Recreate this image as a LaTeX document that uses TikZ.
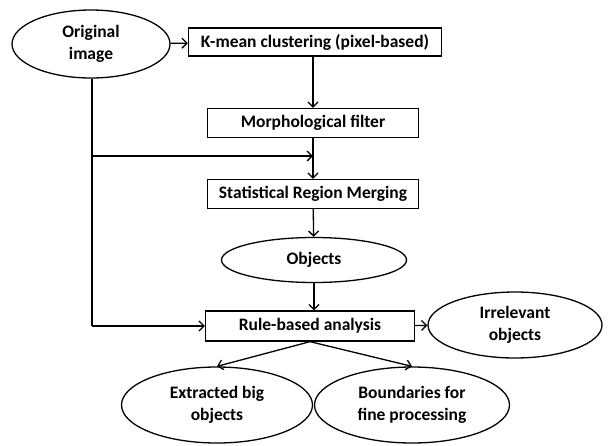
\documentclass[tikz,border=0pt]{standalone}
\usepackage{fontspec}
\setmainfont{Carlito}
\usetikzlibrary{arrows.meta,shapes.geometric}

\tikzset{
  box/.style={draw,line width=1.3pt,minimum width=211pt,minimum height=29pt,inner sep=0pt,font=\bfseries\fontsize{17.5}{22}\selectfont},
  blob/.style={draw,ellipse,line width=1.3pt,inner sep=0pt,align=center,font=\bfseries\fontsize{17.5}{22}\selectfont},
  link/.style={-{Straight Barb[length=5pt,width=10pt]},line width=1.3pt}
}

\begin{document}
\begin{tikzpicture}[x=1pt,y=-1pt]
    \useasboundingbox (0,0) rectangle (616,445);
    % inputs and first steps
    \node[blob,minimum width=158pt,minimum height=68pt] (orig) at (91,44) {Original\\image};
    \node[box,minimum width=253pt,minimum height=28pt] (kmean) at (315,42) {K-mean clustering (pixel-based)};
    \node[box] (morph) at (313,123) {Morphological filter};
    \node[box] (srm) at (313,194) {Statistical Region Merging};
    \node[blob,minimum width=185pt,minimum height=45pt] (objs) at (314,260) {Objects};
    \node[box,minimum width=209pt,minimum height=30pt] (rule) at (310,326) {Rule-based analysis};
    % outputs
    \node[blob,minimum width=174pt,minimum height=66pt] (irr) at (515,325) {Irrelevant\\objects};
    \node[blob,minimum width=191pt,minimum height=76pt] (ext) at (217,405) {Extracted big\\objects};
    \node[blob,minimum width=195pt,minimum height=76pt] (bnd) at (412,405) {Boundaries for\\fine processing};
    % helper points
    \coordinate (split) at (92,156);
    \coordinate (corner) at (92,326);
    \coordinate (join) at (313,156);
    % connectors
    \draw[link] (orig) -- (kmean);
    \draw[link] (kmean.south -| morph.north) -- (morph.north);
    \draw[link] (morph) -- (srm);
    \draw[line width=1.3pt] (orig.south -| split) -- (corner);
    \draw[link] (corner) -- (rule.west);
    \draw[link] (split) -- (join);
    \draw[link] (srm) -- (objs);
    \draw[link] (objs.south) -- (objs.south |- rule.north);
    \draw[link] (rule) -- (irr);
    \draw[link] (rule.south) -- (ext.north);
    \draw[link] (rule.south) -- (bnd.north);
\end{tikzpicture}
\end{document}
